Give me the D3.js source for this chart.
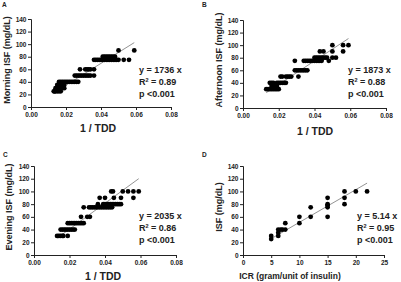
<!DOCTYPE html>
<html><head><meta charset="utf-8">
<script src="https://cdn.jsdelivr.net/npm/d3@7"></script>
<style>
html,body{margin:0;padding:0;background:#fff;}
svg{display:block;font-family:"Liberation Sans",Arial,sans-serif;}
</style></head>
<body>
<svg id="c" width="401" height="282"></svg>
<script>
// ---------- DATA ----------
const tddTicks = [0, 0.02, 0.04, 0.06, 0.08];
const tddTickLabels = ["0.00", "0.02", "0.04", "0.06", "0.08"];
const isfTicks = [0, 20, 40, 60, 80, 100, 120, 140];
const icrTicks = [0, 5, 10, 15, 20, 25];
const icrTickLabels = ["0", "5", "10", "15", "20", "25"];

// Panel A – Morning
const morningX = [
  0.013,0.0135,0.014,0.015,0.016,0.017,
  0.014,0.015,0.016,0.017,0.018,0.019,
  0.015,0.016,0.017,0.018,0.019,
  0.016,0.017,0.018,0.019,0.020,0.021,0.022,0.023,0.024,0.025,0.026,0.027,
  0.025,0.026,0.027,0.028,0.029,0.030,0.031,0.032,0.033,0.034,0.036,
  0.028,0.031,0.032,0.033,0.034,0.036,
  0.036,0.037,0.038,0.039,0.040,0.041,0.042,0.043,0.044,0.045,0.046,0.047,0.048,0.049,0.050,0.053,0.056,
  0.041,0.042,0.043,0.044,0.045,0.046,0.047,0.048,
  0.050,0.059
];
const morningY = [
  25,25,25,25,25,25,
  30,30,30,30,30,30,
  35,35,35,35,35,
  40,40,40,40,40,40,40,40,40,40,40,40,
  50,50,50,50,50,50,50,50,50,50,50,
  60,60,60,60,60,60,
  75,75,75,75,75,75,75,75,75,75,75,75,75,75,75,75,75,
  80,80,80,80,80,80,80,80,
  90,90
];

// Panel B – Afternoon
const afternoonX = [
  0.013,0.014,0.015,0.016,0.017,0.018,0.019,0.020,
  0.016,0.017,0.018,0.019,
  0.015,0.016,0.017,0.019,0.020,0.021,0.022,0.023,0.024,
  0.021,0.022,0.024,0.025,0.026,0.027,0.031,
  0.029,0.030,0.031,0.032,0.033,0.034,0.035,0.036,
  0.029,0.034,0.035,0.036,0.037,0.038,0.039,0.040,0.041,0.042,0.043,0.044,0.048,
  0.040,0.041,0.042,0.043,0.044,0.045,0.046,0.047,0.050,0.052,
  0.043,0.045,0.050,0.056,
  0.050,0.056,0.059
];
const afternoonY = [
  30,30,30,30,30,30,30,30,
  35,35,35,35,
  40,40,40,40,40,40,40,40,40,
  50,50,50,50,50,50,50,
  60,60,60,60,60,60,60,60,
  75,75,75,75,75,75,75,75,75,75,75,75,75,
  80,80,80,80,80,80,80,80,80,80,
  90,90,90,90,
  100,100,100
];

// Panel C – Evening
const eveningX = [
  0.013,0.014,0.015,0.016,0.0165,0.019,
  0.015,0.016,0.017,0.018,0.019,0.020,0.021,0.022,0.023,
  0.019,0.020,0.021,0.022,0.023,0.024,0.025,0.026,0.027,0.028,
  0.0265,0.030,0.0315,
  0.028,0.031,0.032,0.033,0.034,0.035,0.036,0.037,0.038,0.039,0.040,0.041,0.042,0.043,0.044,
  0.036,0.039,0.040,0.041,0.042,0.043,0.044,0.045,0.046,0.047,0.048,0.049,
  0.037,0.040,0.045,0.049,0.056,
  0.0435,0.0445,0.050,0.053,0.056,0.059
];
const eveningY = [
  30,30,30,30,30,30,
  40,40,40,40,40,40,40,40,40,
  50,50,50,50,50,50,50,50,50,50,
  60,60,60,
  75,75,75,75,75,75,75,75,75,75,75,75,75,75,75,
  80,80,80,80,80,80,80,80,80,80,80,80,
  90,90,90,90,90,
  100,100,100,100,100,100
];

// Panel D – ICR vs ISF
const icrX = [5,5,6.25,6.25,6.25,6.7,7,7.5,7.5,10,10,12,12,15,15,15,15,15,18,18,18,20,22];
const icrY = [25,30,30,35,40,40,40,40,50,50,60,60,75,60,75,78,80,90,80,90,100,100,100];

const slopes = [1736, 1873, 2035, 5.14];
const r2Labels = ["0.89", "0.88", "0.86", "0.95"];
const pLabel = "p <0.001";
const panelLetters = ["A", "B", "C", "D"];
const yTitles = ["Morning ISF (mg/dL)", "Afternoon ISF (mg/dL)", "Evening ISF (mg/dL)", "ISF (mg/dL)"];
const xTitles = ["1 / TDD", "1 / TDD", "1 / TDD", "ICR  (gram/unit of insulin)"];

// ---------- LAYOUT ----------
const panels = [
  {xs: morningX, ys: morningY, xDom: [0, 0.08], xt: tddTicks, xtl: tddTickLabels,
   L: 31, R: 171, T: 19, B: 107, letter: [2, 7], yTitle: [10, 60], xTitle: [98, 132, 10.5], ann: [139, 73], lx: [0.013, 0.059]},
  {xs: afternoonX, ys: afternoonY, xDom: [0, 0.08], xt: tddTicks, xtl: tddTickLabels,
   L: 243, R: 386, T: 20, B: 108, letter: [202, 7], yTitle: [222, 60], xTitle: [315, 135, 10.5], ann: [348, 73], lx: [0.013, 0.059]},
  {xs: eveningX, ys: eveningY, xDom: [0, 0.08], xt: tddTicks, xtl: tddTickLabels,
   L: 34, R: 176, T: 166, B: 255, letter: [3, 157], yTitle: [12, 207], xTitle: [103, 280, 10.5], ann: [139, 219], lx: [0.013, 0.059]},
  {xs: icrX, ys: icrY, xDom: [0, 25], xt: icrTicks, xtl: icrTickLabels,
   L: 243, R: 384, T: 166, B: 255, letter: [202, 157], yTitle: [222, 207], xTitle: [290, 279, 8.5], ann: [357, 219], lx: [5, 22]}
];

const svg = d3.select("#c");
const ink = "#222";

panels.forEach((p, i) => {
  const x = d3.scaleLinear().domain(p.xDom).range([p.L, p.R]);
  const y = d3.scaleLinear().domain([0, 140]).range([p.B, p.T]);
  const g = svg.append("g");

  // axes
  const yAx = g.append("g").attr("transform", `translate(${p.L},0)`)
    .call(d3.axisLeft(y).tickValues(isfTicks).tickSize(3).tickPadding(1.5));
  const xAx = g.append("g").attr("transform", `translate(0,${p.B})`)
    .call(d3.axisBottom(x).tickValues(p.xt).tickFormat(d => p.xtl[p.xt.indexOf(d)]).tickSize(3).tickPadding(2));
  [yAx, xAx].forEach(a => {
    a.select(".domain").attr("stroke", ink).attr("stroke-width", 1);
    a.selectAll(".tick line").attr("stroke", ink).attr("stroke-width", 1);
    a.selectAll("text").attr("font-size", 6.5).attr("font-weight", "bold").attr("fill", ink)
      .attr("font-family", "Liberation Sans, Arial, sans-serif");
  });

  // regression line
  g.append("line")
    .attr("x1", x(p.lx[0])).attr("y1", y(slopes[i] * p.lx[0]))
    .attr("x2", x(p.lx[1])).attr("y2", y(slopes[i] * p.lx[1]))
    .attr("stroke", "#777").attr("stroke-width", 0.8);

  // points
  g.selectAll("circle").data(p.xs.map((v, k) => [v, p.ys[k]])).join("circle")
    .attr("cx", d => x(d[0])).attr("cy", d => y(d[1])).attr("r", 2.4).attr("fill", "#000");

  // panel letter
  g.append("text").attr("x", p.letter[0]).attr("y", p.letter[1])
    .attr("font-size", 6.5).attr("font-weight", "bold").attr("fill", ink).text(panelLetters[i]);

  // y title
  g.append("text").attr("transform", `translate(${p.yTitle[0]},${p.yTitle[1]}) rotate(-90)`)
    .attr("text-anchor", "middle").attr("font-size", 9).attr("font-weight", "bold").attr("fill", ink)
    .text(yTitles[i]);

  // x title
  g.append("text").attr("x", p.xTitle[0]).attr("y", p.xTitle[1])
    .attr("text-anchor", "middle").attr("font-size", p.xTitle[2]).attr("font-weight", "bold").attr("fill", ink)
    .text(xTitles[i]);

  // annotation
  const a = g.append("g").attr("font-size", 9).attr("font-weight", "bold").attr("fill", ink);
  a.append("text").attr("x", p.ann[0]).attr("y", p.ann[1]).text(`y = ${slopes[i]} x`);
  const r = a.append("text").attr("x", p.ann[0]).attr("y", p.ann[1] + 12);
  r.append("tspan").text("R");
  r.append("tspan").attr("font-size", 5.5).attr("dy", -3.5).text("2");
  r.append("tspan").attr("dy", 3.5).text(` = ${r2Labels[i]}`);
  a.append("text").attr("x", p.ann[0]).attr("y", p.ann[1] + 24).text(pLabel);
});
</script>
</body></html>
